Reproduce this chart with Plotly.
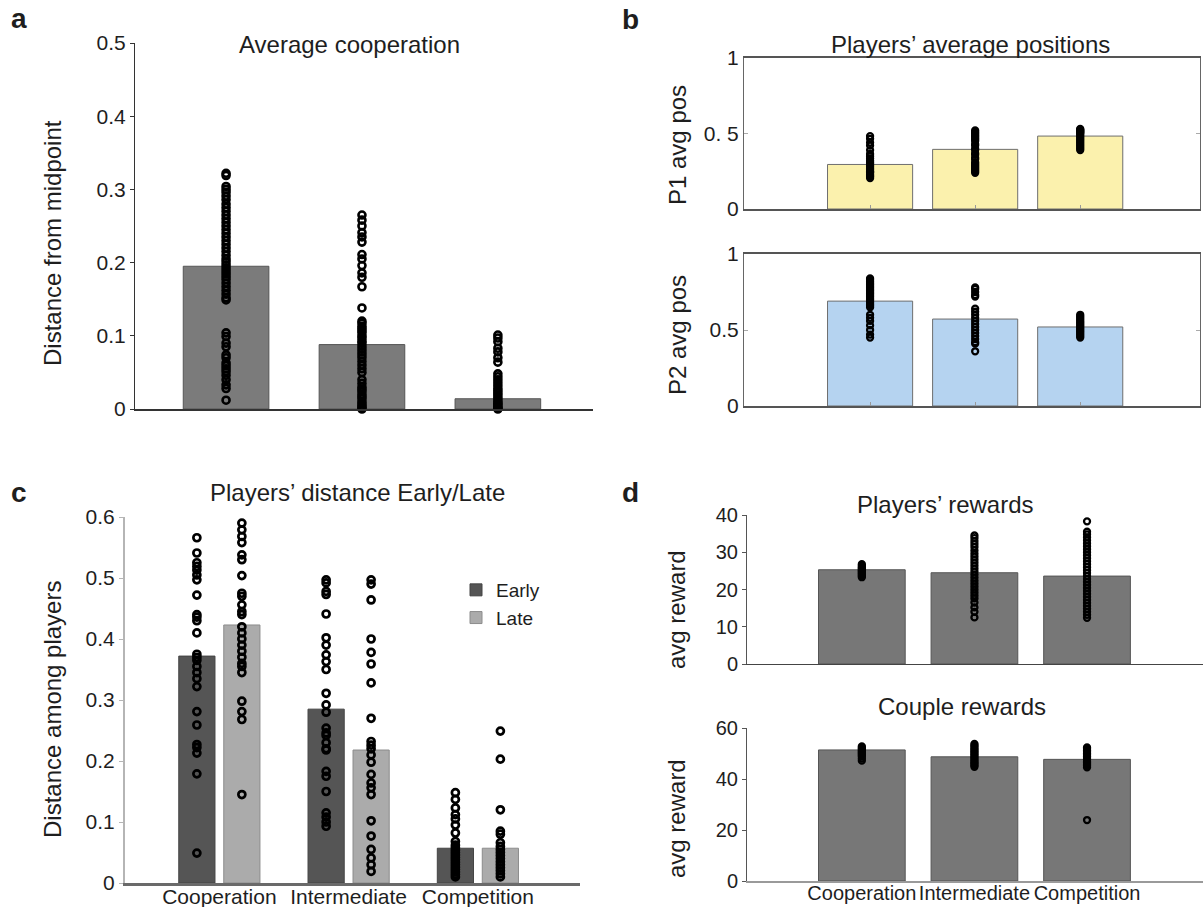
import plotly.graph_objects as go

# ---------------------------------------------------------------- data
conditions = ["Cooperation", "Intermediate", "Competition"]

# (a) average cooperation: distance from the midpoint
coop_mean = [0.195, 0.088, 0.014]
coop_pts_cooperation = [0.322, 0.319, 0.304, 0.300, 0.296, 0.291, 0.286, 0.280, 0.275, 0.270, 0.265,
                        0.260, 0.255, 0.250, 0.245, 0.240, 0.235, 0.230, 0.225, 0.220, 0.215,
                        0.210, 0.205, 0.201, 0.197, 0.193, 0.189, 0.185, 0.181, 0.177, 0.172,
                        0.167, 0.162, 0.157, 0.152, 0.149, 0.104, 0.099, 0.090, 0.085, 0.074,
                        0.070, 0.063, 0.059, 0.055, 0.051, 0.046, 0.040, 0.033, 0.028, 0.012]
coop_pts_intermediate = [0.265, 0.258, 0.250, 0.241, 0.235, 0.228, 0.211, 0.205, 0.196, 0.186,
                         0.180, 0.167, 0.138, 0.120, 0.117, 0.113, 0.110, 0.107, 0.104, 0.100,
                         0.097, 0.093, 0.090, 0.086, 0.082, 0.078, 0.074, 0.070, 0.065, 0.060,
                         0.055, 0.050, 0.040, 0.035, 0.030, 0.027, 0.024, 0.020, 0.017, 0.014,
                         0.010, 0.007, 0.004, 0.002, 0.000]
coop_pts_competition = [0.101, 0.097, 0.092, 0.083, 0.078, 0.070, 0.064, 0.048, 0.044, 0.040,
                        0.036, 0.032, 0.028, 0.025, 0.022, 0.019, 0.016, 0.013, 0.010, 0.008,
                        0.006, 0.004, 0.002, 0.001, 0.000]

# (b) players' average positions
p1_mean = [0.295, 0.395, 0.483]
p1_pts_cooperation = [0.483, 0.465, 0.440, 0.420, 0.390, 0.365, 0.350, 0.335, 0.320, 0.310,
                      0.300, 0.290, 0.280, 0.270, 0.260, 0.250, 0.245, 0.240, 0.230, 0.220,
                      0.215, 0.205]
p1_pts_intermediate = [0.520, 0.510, 0.500, 0.490, 0.480, 0.470, 0.460, 0.450, 0.430, 0.420,
                       0.400, 0.390, 0.370, 0.360, 0.340, 0.330, 0.310, 0.300, 0.290, 0.280,
                       0.270, 0.260, 0.250, 0.240]
p1_pts_competition = [0.530, 0.525, 0.520, 0.515, 0.510, 0.505, 0.500, 0.490, 0.480, 0.470,
                      0.460, 0.450, 0.440, 0.430, 0.420, 0.410, 0.400, 0.390]
p2_mean = [0.690, 0.572, 0.520]
p2_pts_cooperation = [0.840, 0.830, 0.820, 0.810, 0.800, 0.790, 0.780, 0.770, 0.760, 0.750,
                      0.740, 0.730, 0.720, 0.710, 0.700, 0.690, 0.680, 0.670, 0.660, 0.650,
                      0.600, 0.580, 0.560, 0.530, 0.500, 0.470, 0.450]
p2_pts_intermediate = [0.780, 0.770, 0.750, 0.730, 0.720, 0.640, 0.620, 0.600, 0.580, 0.560,
                       0.540, 0.520, 0.500, 0.480, 0.460, 0.440, 0.420, 0.410, 0.360]
p2_pts_competition = [0.600, 0.590, 0.580, 0.570, 0.560, 0.550, 0.540, 0.530, 0.520, 0.510,
                      0.500, 0.490, 0.480, 0.470, 0.460, 0.450]

# (c) players' distance, early vs late
early_mean = [0.372, 0.285, 0.057]
late_mean = [0.423, 0.218, 0.057]
early_pts_cooperation = [0.566, 0.541, 0.525, 0.519, 0.513, 0.505, 0.497, 0.472, 0.440, 0.436,
                         0.430, 0.410, 0.375, 0.370, 0.365, 0.355, 0.345, 0.335, 0.322, 0.281,
                         0.259, 0.227, 0.222, 0.213, 0.179, 0.049]
late_pts_cooperation = [0.601, 0.590, 0.579, 0.568, 0.558, 0.538, 0.530, 0.504, 0.475, 0.470,
                        0.456, 0.445, 0.440, 0.420, 0.410, 0.400, 0.390, 0.380, 0.370, 0.360,
                        0.355, 0.345, 0.298, 0.281, 0.268, 0.145]
early_pts_intermediate = [0.497, 0.492, 0.478, 0.473, 0.441, 0.402, 0.390, 0.374, 0.363, 0.350,
                          0.311, 0.292, 0.280, 0.254, 0.246, 0.242, 0.230, 0.220, 0.218, 0.183,
                          0.175, 0.150, 0.115, 0.108, 0.100, 0.093]
late_pts_intermediate = [0.497, 0.490, 0.464, 0.400, 0.378, 0.359, 0.328, 0.270, 0.232, 0.226,
                         0.220, 0.210, 0.198, 0.178, 0.164, 0.156, 0.145, 0.102, 0.077, 0.055,
                         0.041, 0.030, 0.019]
early_pts_competition = [0.148, 0.137, 0.123, 0.112, 0.105, 0.095, 0.082, 0.068, 0.062, 0.058,
                         0.054, 0.050, 0.046, 0.042, 0.038, 0.034, 0.030, 0.026, 0.022, 0.018,
                         0.014, 0.010]
late_pts_competition = [0.249, 0.203, 0.120, 0.085, 0.080, 0.066, 0.060, 0.055, 0.050, 0.045,
                        0.040, 0.035, 0.030, 0.025, 0.020, 0.015, 0.010]

# (d) rewards
player_reward_mean = [25.3, 24.5, 23.6]
player_pts_cooperation = [26.8, 26.4, 26.0, 25.7, 25.4, 25.1, 24.8, 24.5, 24.2, 23.9, 23.6, 23.3]
player_pts_intermediate = [34.5, 33.8, 33.0, 32.2, 31.4, 30.5, 29.6, 28.8, 28.0, 27.2, 26.4,
                           25.6, 24.8, 24.0, 23.2, 22.4, 21.6, 20.8, 20.0, 19.2, 18.4, 17.6,
                           16.5, 15.2, 14.0, 12.5]
player_pts_competition = [38.3, 35.5, 34.8, 34.0, 33.2, 32.4, 31.6, 30.8, 30.0, 29.2, 28.4,
                          27.6, 26.8, 26.0, 25.2, 24.4, 23.6, 22.8, 22.0, 21.2, 20.4, 19.6,
                          18.8, 18.0, 17.2, 16.4, 15.6, 14.8, 14.0, 13.2, 12.4, -1.0]
couple_reward_mean = [51.4, 48.7, 47.7]
couple_pts_cooperation = [52.8, 52.3, 51.8, 51.3, 50.8, 50.3, 49.8, 49.3, 48.8, 48.0, 47.2]
couple_pts_intermediate = [53.8, 53.2, 52.6, 52.0, 51.4, 50.8, 50.2, 49.6, 49.0, 48.4, 47.8,
                           47.2, 46.6, 46.0, 45.4, 44.8]
couple_pts_competition = [52.4, 51.8, 51.2, 50.6, 50.0, 49.4, 48.8, 48.2, 47.6, 47.0, 46.4,
                          45.8, 45.2, 44.6, 23.9]

# ---------------------------------------------------------------- layout helpers
W, H = 1203, 907
FONT = "Liberation Sans, Arial, sans-serif"
TXT = "#1e1e1e"


def fx(px):
    return px / W


def fy(py):
    return 1 - py / H


pos = [1, 2, 3]
fig = go.Figure()


def add_bars(x, y, ax, color, edge, width):
    fig.add_trace(go.Bar(x=x, y=y, width=width, marker=dict(color=color, line=dict(color=edge, width=1)),
                         xaxis="x" + ax, yaxis="y" + ax, showlegend=False, hoverinfo="skip"))


def add_points(xc, values, ax, size=7, lw=2.6):
    fig.add_trace(go.Scatter(x=[xc] * len(values), y=values, mode="markers",
                             marker=dict(symbol="circle-open", size=size, color="black",
                                         line=dict(width=lw, color="black")),
                             xaxis="x" + ax, yaxis="y" + ax, showlegend=False, cliponaxis=False,
                             hoverinfo="skip"))


# (a)
add_bars(pos, coop_mean, "", "#7b7b7b", "#555555", 0.63)
for xc, v in zip(pos, [coop_pts_cooperation, coop_pts_intermediate, coop_pts_competition]):
    add_points(xc, v, "", size=7, lw=2.6)

# (b)
add_bars(pos, p1_mean, "2", "#fbf1ad", "#6e6e6e", 0.81)
for xc, v in zip(pos, [p1_pts_cooperation, p1_pts_intermediate, p1_pts_competition]):
    add_points(xc, v, "2", size=6, lw=2.3)
add_bars(pos, p2_mean, "3", "#b5d3f0", "#6e6e6e", 0.81)
for xc, v in zip(pos, [p2_pts_cooperation, p2_pts_intermediate, p2_pts_competition]):
    add_points(xc, v, "3", size=6, lw=2.3)

# (c) early / late pairs around each condition
half = 0.174
early_x = [p - half for p in pos]
late_x = [p + half for p in pos]
fig.add_trace(go.Bar(x=early_x, y=early_mean, width=0.28, name="Early",
                     marker=dict(color="#555555", line=dict(color="#444444", width=1)),
                     xaxis="x4", yaxis="y4", hoverinfo="skip"))
fig.add_trace(go.Bar(x=late_x, y=late_mean, width=0.28, name="Late",
                     marker=dict(color="#ababab", line=dict(color="#8c8c8c", width=1)),
                     xaxis="x4", yaxis="y4", hoverinfo="skip"))
for xc, v in zip(early_x, [early_pts_cooperation, early_pts_intermediate, early_pts_competition]):
    add_points(xc, v, "4", size=7, lw=2.7)
for xc, v in zip(late_x, [late_pts_cooperation, late_pts_intermediate, late_pts_competition]):
    add_points(xc, v, "4", size=7, lw=2.7)

# (d)
add_bars(pos, player_reward_mean, "5", "#777777", "#555555", 0.77)
for xc, v in zip(pos, [player_pts_cooperation, player_pts_intermediate, player_pts_competition]):
    add_points(xc, v, "5", size=6, lw=2.3)
add_bars(pos, couple_reward_mean, "6", "#777777", "#555555", 0.77)
for xc, v in zip(pos, [couple_pts_cooperation, couple_pts_intermediate, couple_pts_competition]):
    add_points(xc, v, "6", size=6, lw=2.3)


def xax(x0, x1, rng, anchor, line_color="#333333", line_width=1, **kw):
    d = dict(domain=[fx(x0), fx(x1)], range=rng, anchor=anchor, showgrid=False, zeroline=False,
             showline=True, linecolor=line_color, linewidth=line_width, showticklabels=False,
             ticks="", fixedrange=True, automargin=False, tickangle=0)
    d.update(kw)
    return d


def yax(y_top, y_bot, rng, anchor, tickvals, size, line_color="#333333", line_width=1, **kw):
    d = dict(domain=[fy(y_bot), fy(y_top)], range=rng, anchor=anchor, showgrid=False,
             zeroline=False, showline=True, linecolor=line_color, linewidth=line_width,
             tickvals=tickvals, ticks="outside", ticklen=4, tickcolor=line_color,
             tickfont=dict(family=FONT, size=size, color=TXT), fixedrange=True, automargin=False)
    d.update(kw)
    return d


fig.update_layout(
    width=W, height=H, margin=dict(l=0, r=0, t=0, b=0, autoexpand=False),
    paper_bgcolor="white", plot_bgcolor="white", barmode="overlay",
    font=dict(family=FONT, color=TXT),
    # (a)
    xaxis=xax(135, 593, [0.33, 3.7], "y", line_width=1.5),
    yaxis=yax(43, 409, [0, 0.5], "x", [0, 0.1, 0.2, 0.3, 0.4, 0.5], 21),
    # (b)
    xaxis2=xax(744, 1200, [-0.2, 4.14], "y2", line_color="#555555", line_width=1.5,
               mirror=True, tickvals=pos, ticks="inside", ticklen=4, tickcolor="#999999"),
    yaxis2=yax(58, 209, [0, 1], "x2", [0, 0.5, 1], 21, line_color="#666666",
               mirror="ticks", ticks="inside", tickcolor="#aaaaaa", ticktext=["0", "0. 5", "1"]),
    xaxis3=xax(744, 1200, [-0.2, 4.14], "y3", line_color="#555555", line_width=1.5,
               mirror=True, tickvals=pos, ticks="inside", ticklen=4, tickcolor="#999999"),
    yaxis3=yax(254, 406, [0, 1], "x3", [0, 0.5, 1], 21, line_color="#666666",
               mirror="ticks", ticks="inside", tickcolor="#aaaaaa"),
    # (c)
    xaxis4=xax(125, 580, [0.27, 3.79], "y4", line_color="#6a6a6a", line_width=2.5,
               showticklabels=True, tickvals=pos, ticktext=conditions, ticklabelstandoff=-7,
               tickfont=dict(family=FONT, size=21, color=TXT)),
    yaxis4=yax(517, 883, [0, 0.6], "x4", [0, 0.1, 0.2, 0.3, 0.4, 0.5, 0.6], 21,
               line_color="#b5b5b5", line_width=2),
    # (d)
    xaxis5=xax(747, 1203, [-0.02, 4.03], "y5", line_color="#444444", line_width=1.2),
    yaxis5=yax(515, 664, [0, 40], "x5", [0, 10, 20, 30, 40], 20, line_color="#555555"),
    xaxis6=xax(747, 1203, [-0.02, 4.03], "y6", line_color="#9a9a9a", line_width=2,
               showticklabels=True, tickvals=pos, ticktext=conditions, ticklabelstandoff=-7,
               tickfont=dict(family=FONT, size=20, color=TXT)),
    yaxis6=yax(728, 881, [0, 60], "x6", [0, 20, 40, 60], 20, line_color="#555555"),
    legend=dict(x=fx(456), y=fy(571), xanchor="left", yanchor="top", bgcolor="rgba(0,0,0,0)",
                font=dict(family=FONT, size=19, color=TXT), tracegroupgap=0, itemwidth=30),
)


def label(text, x, y, size, rot=0, bold=False):
    fig.add_annotation(text=f"<b>{text}</b>" if bold else text, x=fx(x), y=fy(y), xref="paper",
                       yref="paper", showarrow=False, textangle=rot, xanchor="center",
                       yanchor="middle", font=dict(family=FONT, size=size, color=TXT))


# panel letters
label("a", 19, 18, 28, bold=True)
label("b", 630, 20, 28, bold=True)
label("c", 19, 493, 28, bold=True)
label("d", 630, 493, 28, bold=True)

# titles
label("Average cooperation", 349, 45, 24)
label("Players’ average positions", 971, 45, 24)
label("Players’ distance Early/Late", 357, 492, 24)
label("Players’ rewards", 945, 504, 24)
label("Couple rewards", 962, 706, 24)

# axis titles
label("Distance from midpoint", 52, 243, 24, rot=-90)
label("P1 avg pos", 677, 145, 24, rot=-90)
label("P2 avg pos", 677, 335, 24, rot=-90)
label("Distance among players", 52, 710, 24, rot=-90)
label("avg reward", 676, 610, 24, rot=-90)
label("avg reward", 676, 819, 24, rot=-90)

fig.write_html("out.html")
